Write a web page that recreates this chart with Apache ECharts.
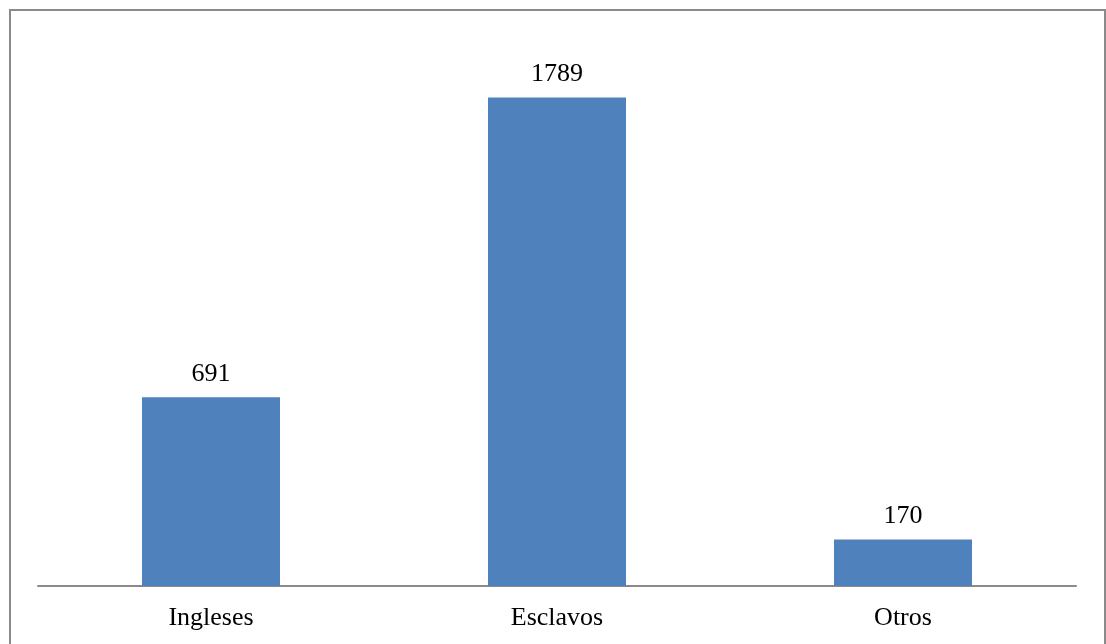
<!DOCTYPE html>
<html>
<head>
<meta charset="utf-8">
<script src="https://cdn.jsdelivr.net/npm/echarts@6/dist/echarts.min.js"></script>
<style>
html,body{margin:0;padding:0;background:#fff;}
#frame{position:absolute;left:9px;top:9px;width:1097px;height:650px;border:2px solid #8a8a8a;box-sizing:border-box;}
#chart{position:absolute;left:0;top:0;width:1106px;height:644px;}
</style>
</head>
<body>
<div id="frame"></div>
<div id="chart"></div>
<script>
const categories = ['Ingleses', 'Esclavos', 'Otros'];
const values = [691, 1789, 170];

const chart = echarts.init(document.getElementById('chart'));
chart.setOption({
  animation: false,
  grid: { left: 38, right: 30, top: 40, bottom: 58, containLabel: false },
  xAxis: {
    type: 'category',
    data: categories,
    axisLine: { show: true, lineStyle: { color: '#8a8a8a', width: 2 } },
    axisTick: { show: false },
    axisLabel: { color: '#000', fontFamily: 'Liberation Serif', fontSize: 26, margin: 19 }
  },
  yAxis: {
    type: 'value',
    min: 0, max: 2000,
    show: false,
    splitLine: { show: false }
  },
  series: [{
    type: 'bar',
    data: values,
    barWidth: 138,
    itemStyle: { color: '#4F81BD' },
    label: { show: true, position: 'top', distance: 10, color: '#000', fontFamily: 'Liberation Serif', fontSize: 26 }
  }]
});
</script>
</body>
</html>
